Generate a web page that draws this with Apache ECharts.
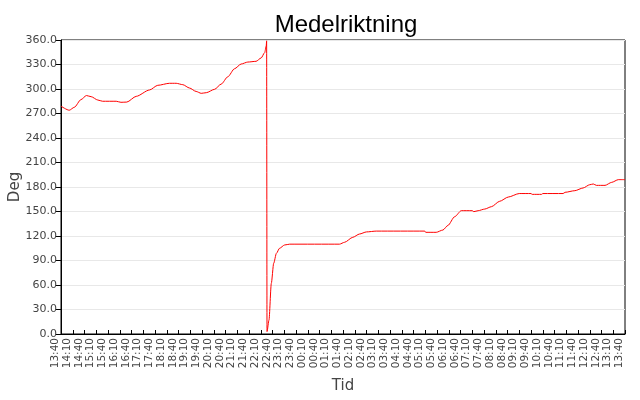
<!DOCTYPE html>
<html>
<head>
<meta charset="utf-8">
<script src="https://cdn.jsdelivr.net/npm/echarts@6/dist/echarts.min.js"></script>
<style>html,body{margin:0;padding:0;background:#fff;}#c{width:640px;height:400px;}</style>
</head>
<body>
<div id="c"></div>
<script>
// minutes after 13:40
var minutes = [0,21,34,51,65,77,94,106,141,153,168,192,226,247,277,294,311,328,345,358,371,392,409,426,443,460,477,498,511,520,524,525,
  526,531,537,543,550,558,571,584,711,724,745,762,780,805,929,931,958,975,988,1005,1022,1050,1054,1065,1082,1099,1120,1142,1170,1200,1203,1227,1230,1282,1287,1312,1333,1350,1359,1367,1389,1406,1423,1440];
var degrees = [279,274,277.6,287,292,290.6,286.5,285,285,283.7,284,291,298.8,304.5,307,307,305.3,301.2,297,294.7,295.5,299.6,306,315,324.8,330.6,333,333.9,338,344.5,352.6,359,
  3,17,62,86.5,98.8,105,109,110,110,112.3,118.4,122.4,125,126,126,124.5,124.5,127.3,133,143.6,151,151,149.8,151,153,155.9,162.5,167.7,172,172,171,171,172,172,173.5,175.5,178.8,182.8,183.7,182,182,185.7,189,189];
var startMinute = 13*60 + 40;
var titleText = 'Medelriktning';
var yName = 'Deg';
var xName = 'Tid';

function fmtTime(v){
  var m = (startMinute + v) % 1440;
  var h = Math.floor(m/60), mm = m % 60;
  return (h<10?'0':'') + h + ':' + (mm<10?'0':'') + mm;
}
var data = minutes.map(function(t,i){return [t, degrees[i]];});

var chart = echarts.init(document.getElementById('c'), null, {renderer:'canvas'});
chart.setOption({
  animation:false,
  backgroundColor:'#fff',
  title:{text:titleText, left:341, top:8, textAlign:'center',
    textStyle:{fontFamily:'Liberation Sans, Arial, sans-serif', fontSize:24, fontWeight:'normal', color:'#000'}},
  grid:{left:61, right:15, top:40, bottom:66, outerBoundsMode:'none', containLabel:false, show:true, borderColor:'#000', borderWidth:1, backgroundColor:'transparent'},
  xAxis:{type:'value', min:0, max:1440, interval:30,
    name:xName, nameLocation:'middle', nameGap:45, nameMoveOverlap:false,
    nameTextStyle:{fontFamily:'DejaVu Sans, sans-serif', fontSize:15, color:'#444'},
    axisLine:{lineStyle:{color:'#000', width:1}},
    axisTick:{inside:true, length:4, lineStyle:{color:'#000'}},
    splitLine:{show:false},
    axisLabel:{rotate:90, formatter:fmtTime, margin:4, verticalAlign:'bottom', fontFamily:'DejaVu Sans, sans-serif', fontSize:10.5, color:'#444', showMinLabel:true, showMaxLabel:true, hideOverlap:false}
  },
  yAxis:{type:'value', min:0, max:360, interval:30,
    name:yName, nameLocation:'middle', nameGap:38, nameMoveOverlap:false,
    nameTextStyle:{fontFamily:'DejaVu Sans, sans-serif', fontSize:15, color:'#444'},
    axisLine:{show:true, lineStyle:{color:'#000', width:1}},
    axisTick:{show:true, length:5, lineStyle:{color:'#000'}},
    splitLine:{lineStyle:{color:'#e8e8e8', width:1}},
    axisLabel:{formatter:function(v){return v.toFixed(1);}, margin:4, fontFamily:'DejaVu Sans, sans-serif', fontSize:11, color:'#444'}
  },
  series:[{type:'line', data:data, showSymbol:false, smooth:0.25, smoothMonotone:'x',
    lineStyle:{color:'#ff0000', width:1}, itemStyle:{color:'#ff0000'}}]
});
</script>
</body>
</html>
